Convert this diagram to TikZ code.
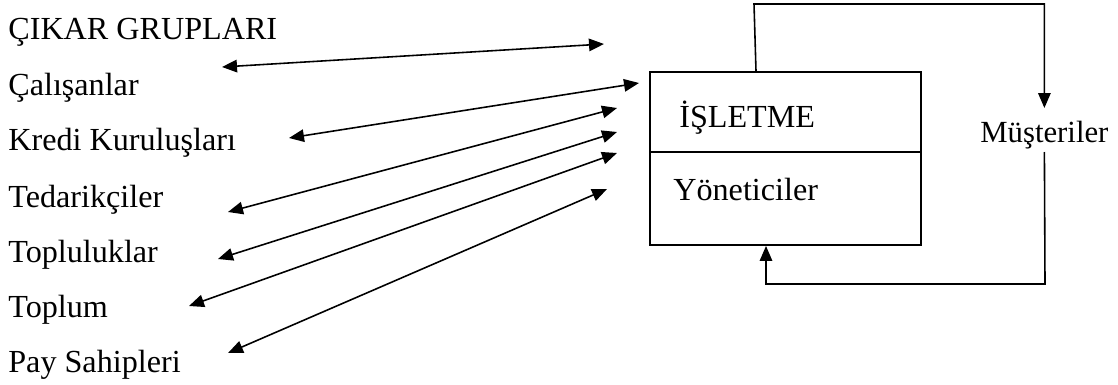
\documentclass[tikz,border=0pt]{standalone}
\usepackage{fontspec}
\setmainfont{Liberation Serif}
\usetikzlibrary{positioning,arrows.meta}

\begin{document}
\begin{tikzpicture}[
    x=0.02cm,
    y=-0.02cm,
    grup/.style={
        anchor=base west,
        inner sep=0pt,
        font=\fontsize{18.3}{22}\selectfont
    },
    box/.style={
        draw,
        rectangle,
        line width=1.1pt,
        minimum width=5.42cm,
        minimum height=3.46cm
    },
    arrow/.style={{Triangle[length=0.3cm,width=0.25cm]}-{Triangle[length=0.3cm,width=0.25cm]}, line width=0.9pt},
    loop/.style={-{Triangle[length=0.3cm,width=0.25cm]}, line width=0.9pt}
]
\useasboundingbox (0,0) rectangle (1118,385);

% cikar gruplari
\node[grup] (baslik) at (8,40) {ÇIKAR GRUPLARI};
\node[grup] (calisan) at (8,95) {Çalışanlar};
\node[grup] (kredi) at (8,150) {Kredi Kuruluşları};
\node[grup] (tedarik) at (8,207) {Tedarikçiler};
\node[grup] (topluluk) at (8,262) {Topluluklar};
\node[grup] (toplum) at (8,317) {Toplum};
\node[grup] (pay) at (8,372) {Pay Sahipleri};

% isletme
\node[box] (isletme) at (785.5,158.5) {};
\draw[line width=1.1pt] (isletme.west |- 0,152) -- (isletme.east |- 0,152);
\node[grup] (isl) at (679,128) {İŞLETME};
\node[grup] (yon) at (673,200) {Yöneticiler};
\node[grup, font=\fontsize{17.5}{21}\selectfont] (musteri) at (980,142) {Müşteriler};

% ok uclari
\coordinate (a1) at (222,67);  \coordinate (b1) at (604,44);
\coordinate (a2) at (289,138); \coordinate (b2) at (639,83);
\coordinate (a3) at (228,212); \coordinate (b3) at (617,108);
\coordinate (a4) at (218,259); \coordinate (b4) at (617,132);
\coordinate (a5) at (189,306); \coordinate (b5) at (617,153);
\coordinate (a6) at (228,353); \coordinate (b6) at (607,189);

\foreach \i in {1,...,6}
    \draw[arrow] (a\i) -- (b\i);

% musteri dongusu
\coordinate (ust) at (754,4);
\coordinate (alt) at (1045,284);
\draw[loop] (isletme.north -| 756,0) -- (ust) -- (ust -| musteri.center) -- (musteri.north |- 0,108);
\draw[loop] (musteri.south |- 0,152) -- (alt) -- (alt -| 766,0) -- (isletme.south -| 766,0);

\end{tikzpicture}
\end{document}
